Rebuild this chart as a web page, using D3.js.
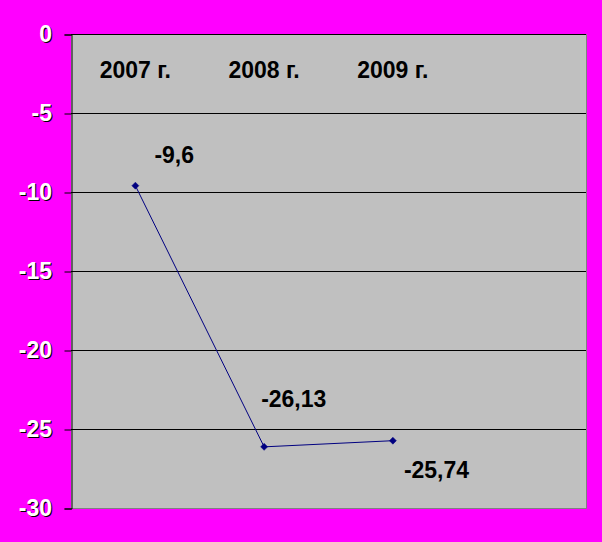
<!DOCTYPE html>
<html><head><meta charset="utf-8">
<script src="https://cdn.jsdelivr.net/npm/d3@7"></script>
<style>
html,body{margin:0;padding:0;background:#FF00FF;}
svg{display:block;}
text{font-family:"Liberation Sans",Arial,sans-serif;font-weight:bold;}
</style></head>
<body>
<svg id="chart" width="602" height="542"></svg>
<script>
// Data
const categories = ["2007 г.", "2008 г.", "2009 г."];
const values = [-9.6, -26.13, -25.74];
const valueLabels = ["-9,6", "-26,13", "-25,74"];
const yTicks = [0, -5, -10, -15, -20, -25, -30];

// Layout / style (not data)
const slotCount = 4; // category slots on the axis (last one empty)
const plot = {left: 71, right: 586, top: 34, bottom: 508};
const labelOffsets = [[19, -23], [-3, -40], [11, 37]];
const fontSize = 23;
const fmt = d => String(d).replace("\u2212", "-");

const svg = d3.select("#chart");
svg.append("rect").attr("width", 602).attr("height", 542).attr("fill", "#FF00FF");

const slots = categories.concat(d3.range(slotCount - categories.length).map(i => "__empty" + i));
const x = d3.scaleBand().domain(slots).range([plot.left, plot.right]);
const y = d3.scaleLinear().domain([-30, 0]).range([plot.bottom, plot.top]);
const cx = c => x(c) + x.bandwidth() / 2;

// Plot area
svg.append("rect")
  .attr("x", plot.left).attr("y", plot.top)
  .attr("width", plot.right - plot.left).attr("height", plot.bottom - plot.top)
  .attr("fill", "#C0C0C0");

// Gridlines
svg.append("g").selectAll("line").data(yTicks.filter(t => t !== -30)).join("line")
  .attr("x1", plot.left).attr("x2", plot.right)
  .attr("y1", d => Math.round(y(d)) + 0.5).attr("y2", d => Math.round(y(d)) + 0.5)
  .attr("stroke", "#000").attr("stroke-width", 1);

// Right & bottom border (gray)
svg.append("path")
  .attr("d", `M${plot.right + 0.5},${plot.top}V${plot.bottom + 0.5}H${plot.left}`)
  .attr("fill", "none").attr("stroke", "#808080").attr("stroke-width", 1);

// Y axis
const yAxis = d3.axisLeft(y).tickValues(yTicks).tickSize(7).tickPadding(12).tickFormat(fmt);
const gy = svg.append("g").attr("transform", `translate(${plot.left + 0.5},0.5)`).call(yAxis);
gy.select(".domain").attr("stroke", "#000");
gy.selectAll(".tick line").attr("stroke", "#000");
gy.selectAll(".tick text").remove();
const tickLab = svg.append("g");
yTicks.forEach(t => {
  const ty = y(t) + 8;
  const label = fmt(t);
  tickLab.append("text").attr("x", 53).attr("y", ty + 1).attr("text-anchor", "end")
    .attr("font-size", fontSize).attr("fill", "#000").text(label);
  tickLab.append("text").attr("x", 52).attr("y", ty).attr("text-anchor", "end")
    .attr("font-size", fontSize).attr("fill", "#fff").text(label);
});

// Category labels (top)
svg.append("g").selectAll("text").data(categories).join("text")
  .attr("x", d => cx(d)).attr("y", 78)
  .attr("text-anchor", "middle").attr("font-size", fontSize).attr("fill", "#000")
  .text(d => d);

// Line
const pts = categories.map((c, i) => ({c, v: values[i], l: valueLabels[i], o: labelOffsets[i]}));
svg.append("path").datum(pts)
  .attr("d", d3.line().x(d => cx(d.c)).y(d => y(d.v)))
  .attr("fill", "none").attr("stroke", "#000080").attr("stroke-width", 1);

// Markers (diamonds)
svg.append("g").selectAll("path").data(pts).join("path")
  .attr("transform", d => `translate(${cx(d.c)},${y(d.v)})`)
  .attr("d", "M0,-3.5L3.5,0L0,3.5L-3.5,0Z")
  .attr("fill", "#000080").attr("stroke", "#000080").attr("stroke-width", 0.5);

// Data labels
svg.append("g").selectAll("text").data(pts).join("text")
  .attr("x", d => cx(d.c) + d.o[0]).attr("y", d => y(d.v) + d.o[1])
  .attr("font-size", fontSize).attr("fill", "#000")
  .text(d => d.l);
</script>
</body></html>
